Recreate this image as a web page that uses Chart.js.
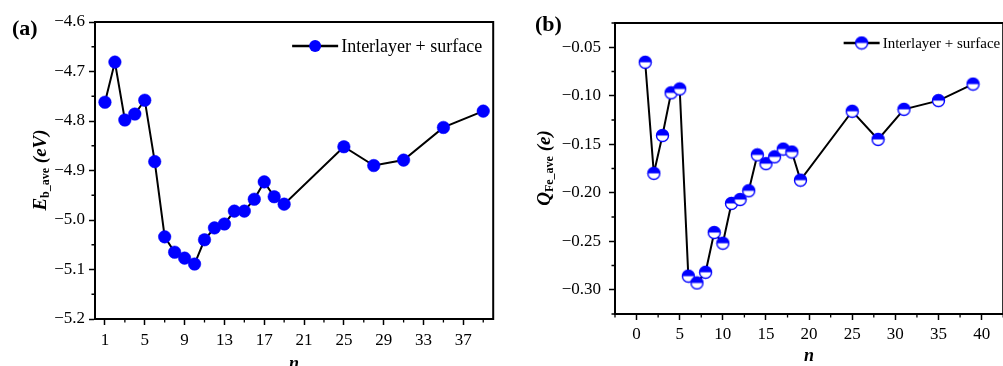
<!DOCTYPE html>
<html>
<head>
<meta charset="utf-8">
<script src="https://cdn.jsdelivr.net/npm/chart.js@4/dist/chart.umd.min.js"></script>
<style>
  html, body { margin: 0; padding: 0; background: #fff; overflow: hidden; width: 1003px; height: 366px; }
  canvas { position: absolute; top: 0; }
  #chartA { left: 0; }
  #chartB { left: 500px; }
</style>
</head>
<body>
<canvas id="chartA" width="500" height="366"></canvas>
<canvas id="chartB" width="510" height="366"></canvas>
<script>
// number of Fe layers
const nValues = [1, 2, 3, 4, 5, 6, 7, 8, 9, 10, 11, 12, 13, 14, 15, 16, 17, 18, 19, 25, 28, 31, 35, 39];

// (a) average binding energy, eV
const ebAve = [-4.762, -4.681, -4.798, -4.786, -4.758, -4.882, -5.034, -5.065, -5.077, -5.089, -5.040, -5.016,
  -5.008, -4.982, -4.982, -4.958, -4.923, -4.953, -4.968, -4.852, -4.890, -4.879, -4.813, -4.780];

// (b) average Fe charge, e
const qFeAve = [-0.0655, -0.180, -0.141, -0.097, -0.093, -0.286, -0.293, -0.282, -0.241, -0.252, -0.211, -0.207,
  -0.198, -0.161, -0.170, -0.163, -0.155, -0.158, -0.187, -0.116, -0.145, -0.114, -0.105, -0.088];

const seriesName = 'Interlayer + surface';

const xTicksA = [1, 5, 9, 13, 17, 21, 25, 29, 33, 37];
const yTicksA = [-5.2, -5.1, -5.0, -4.9, -4.8, -4.7, -4.6];
const xTicksB = [0, 5, 10, 15, 20, 25, 30, 35, 40];
const yTicksB = [-0.30, -0.25, -0.20, -0.15, -0.10, -0.05];

const SERIF = "'Liberation Serif', 'DejaVu Serif', serif";
const BLUE = '#0000ff';

function minorsOf(ticks, lo, hi) {
  const step = ticks[1] - ticks[0];
  const out = [];
  for (let v = ticks[0] - step / 2; v <= hi + 1e-9; v += step) {
    if (v >= lo - 1e-9) out.push(v);
  }
  return out;
}

const toMinus = s => s.replace('-', '\u2212');

// half-filled circle marker for panel (b)
function halfCircle(r) {
  const c = document.createElement('canvas');
  const s = Math.ceil(r * 2 + 3);
  c.width = s; c.height = s;
  const g = c.getContext('2d');
  const m = s / 2;
  g.beginPath(); g.arc(m, m, r, 0, Math.PI * 2); g.fillStyle = '#fff'; g.fill();
  g.beginPath(); g.arc(m, m, r, Math.PI, Math.PI * 2); g.closePath(); g.fillStyle = BLUE; g.fill();
  g.beginPath(); g.arc(m, m, r, 0, Math.PI * 2); g.lineWidth = 1.4; g.strokeStyle = BLUE; g.stroke();
  return c;
}
const halfMarker = halfCircle(6);

function drawRich(ctx, cx, cy, segs) {
  ctx.save();
  ctx.translate(cx, cy);
  ctx.rotate(-Math.PI / 2);
  ctx.textBaseline = 'middle';
  ctx.fillStyle = '#000';
  let total = 0;
  segs.forEach(s => { ctx.font = s.font; s.w = ctx.measureText(s.text).width; total += s.w; });
  let x = -total / 2;
  segs.forEach(s => { ctx.font = s.font; ctx.fillText(s.text, x, s.dy || 0); x += s.w; });
  ctx.restore();
}

// frame, minor ticks, legend, labels
function decorPlugin(cfg) {
  return {
    id: 'decor',
    afterDraw(chart) {
      const { ctx, chartArea: a, scales } = chart;
      ctx.save();
      ctx.strokeStyle = '#000';
      ctx.lineWidth = 2;
      ctx.strokeRect(a.left, a.top, a.right - a.left, a.bottom - a.top);

      ctx.lineWidth = 1.3;
      ctx.beginPath();
      cfg.minorX.forEach(v => {
        const p = scales.x.getPixelForValue(v);
        ctx.moveTo(p, a.bottom); ctx.lineTo(p, a.bottom + 3.5);
      });
      cfg.minorY.forEach(v => {
        const p = scales.y.getPixelForValue(v);
        ctx.moveTo(a.left - 3.5, p); ctx.lineTo(a.left, p);
      });
      ctx.stroke();

      // legend
      ctx.font = cfg.legendFont;
      ctx.textBaseline = 'middle';
      const tw = ctx.measureText(seriesName).width;
      const tx = a.right - cfg.legendRight - tw;
      const ly = cfg.legendY;
      const lx1 = tx - 3, lx0 = lx1 - cfg.legendLine;
      ctx.beginPath();
      ctx.moveTo(lx0, ly); ctx.lineTo(lx1, ly);
      ctx.lineWidth = 2.5;
      ctx.stroke();
      const mx = (lx0 + lx1) / 2;
      if (cfg.half) {
        ctx.drawImage(halfMarker, mx - halfMarker.width / 2, ly - halfMarker.height / 2);
      } else {
        ctx.beginPath(); ctx.arc(mx, ly, 6, 0, Math.PI * 2); ctx.fillStyle = BLUE; ctx.fill();
      }
      ctx.fillStyle = '#000';
      ctx.fillText(seriesName, tx, ly + 1);

      // panel label
      ctx.font = "bold 22px " + SERIF;
      ctx.textAlign = 'left';
      ctx.fillText(cfg.panel, cfg.panelX, cfg.panelY);
      ctx.restore();

      drawRich(ctx, cfg.titleX, cfg.titleY, cfg.title);
    }
  };
}

function makeChart(id, values, o) {
  return new Chart(document.getElementById(id), {
    type: 'line',
    data: {
      datasets: [{
        label: seriesName,
        data: nValues.map((n, i) => ({ x: n, y: values[i] })),
        borderColor: '#000',
        borderWidth: 2,
        tension: 0,
        pointStyle: o.pointStyle,
        pointRadius: 6.3,
        pointBackgroundColor: BLUE,
        pointBorderColor: BLUE,
        pointBorderWidth: 0.5
      }]
    },
    options: {
      responsive: false,
      animation: false,
      layout: { padding: o.padding },
      plugins: { legend: { display: false }, tooltip: { enabled: false } },
      scales: {
        x: {
          type: 'linear',
          min: o.xMin, max: o.xMax,
          afterBuildTicks: s => { s.ticks = o.xTicks.map(v => ({ value: v })); },
          afterFit: s => { s.height = o.xHeight; },
          grid: { drawOnChartArea: false, tickLength: 6, tickColor: '#000', tickWidth: 1.5 },
          border: { color: '#000', width: 2 },
          ticks: { color: '#000', font: { family: SERIF, size: 17 }, padding: o.xPad, maxRotation: 0,
            callback: v => String(v) },
          title: { display: true, text: 'n', color: '#000',
            font: { family: SERIF, size: 18, style: 'italic', weight: 'bold' },
            padding: { top: 0, bottom: o.nPad } }
        },
        y: {
          min: o.yMin, max: o.yMax,
          afterBuildTicks: s => { s.ticks = o.yTicks.map(v => ({ value: v })); },
          afterFit: s => { s.width = o.yWidth; },
          grid: { drawOnChartArea: false, tickLength: 6, tickColor: '#000', tickWidth: 1.5 },
          border: { color: '#000', width: 2 },
          ticks: { color: '#000', font: { family: SERIF, size: 17 }, padding: o.yPad,
            callback: v => toMinus(v.toFixed(o.yDigits)) }
        }
      }
    },
    plugins: [decorPlugin(o.decor)]
  });
}

makeChart('chartA', ebAve, {
  pointStyle: 'circle',
  padding: { left: 0, top: 22, right: 1, bottom: 0 },
  xMin: 0, xMax: 40, yMin: -5.2, yMax: -4.6,
  xTicks: xTicksA, yTicks: yTicksA,
  xHeight: 47, yWidth: 95, xPad: 5, yPad: 4, yDigits: 1, nPad: -9,
  decor: {
    minorX: minorsOf(xTicksA, 0, 40), minorY: minorsOf(yTicksA, -5.2, -4.6),
    legendFont: "18px " + SERIF, legendRight: 11, legendY: 46, legendLine: 46, half: false,
    panel: '(a)', panelX: 12, panelY: 29,
    titleX: 41, titleY: 170,
    title: [
      { text: 'E', font: "italic bold 19px " + SERIF },
      { text: 'b_ave', font: "bold 12px " + SERIF, dy: 5 },
      { text: ' (eV)', font: "italic bold 19px " + SERIF }
    ]
  }
});

makeChart('chartB', qFeAve, {
  pointStyle: halfMarker,
  padding: { left: 0, top: 23, right: 5, bottom: 0 },
  xMin: -2.5, xMax: 42.5, yMin: -0.325, yMax: -0.025,
  xTicks: xTicksB, yTicks: yTicksB,
  xHeight: 52, yWidth: 115, xPad: 4, yPad: 8, yDigits: 2, nPad: -1,
  decor: {
    minorX: minorsOf(xTicksB, -2.5, 42.5), minorY: minorsOf(yTicksB, -0.325, -0.025),
    legendFont: "15px " + SERIF, legendRight: 3, legendY: 43, legendLine: 36, half: true,
    panel: '(b)', panelX: 35, panelY: 25,
    titleX: 45, titleY: 168,
    title: [
      { text: 'Q', font: "italic bold 19px " + SERIF },
      { text: 'Fe_ave', font: "bold 12px " + SERIF, dy: 5 },
      { text: ' (e)', font: "italic bold 19px " + SERIF }
    ]
  }
});
</script>
</body>
</html>
